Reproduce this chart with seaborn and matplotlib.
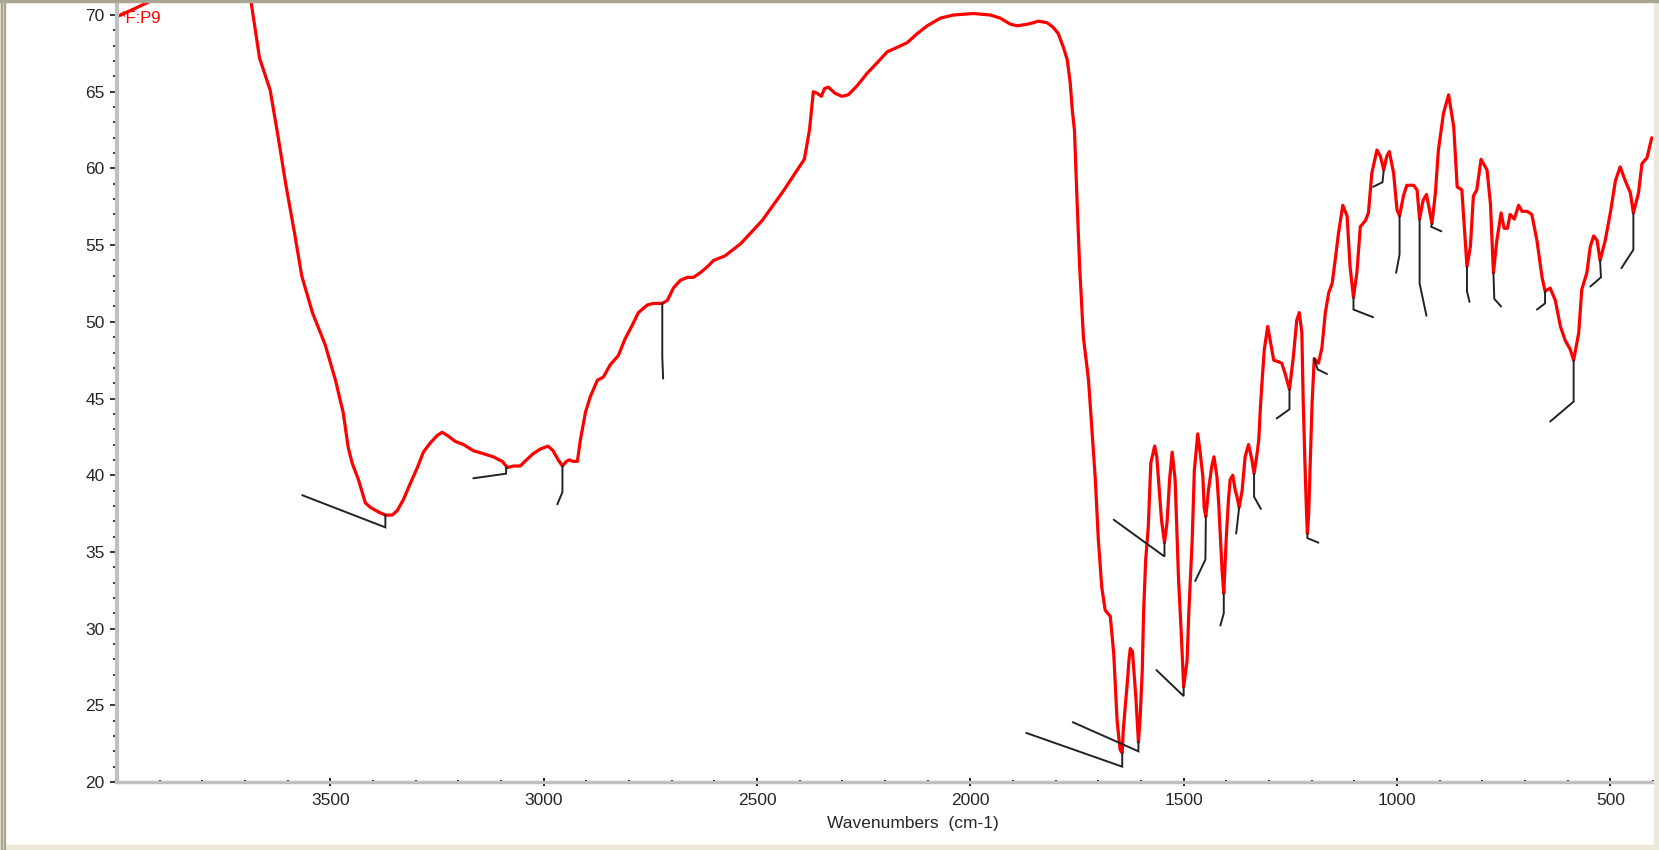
import pandas as pd
import seaborn as sns
import matplotlib.pyplot as plt
from matplotlib.ticker import MultipleLocator, FixedLocator
from matplotlib.patches import Rectangle

# IR spectrum (wavenumber cm-1, %T)
wavenumber = [
    4000, 3960, 3907, 3850, 3780, 3730, 3700, 3686, 3666, 3641, 3622, 3604,
    3584, 3567, 3542, 3512, 3488, 3470, 3458, 3449, 3434, 3418, 3406, 3387,
    3371, 3355, 3343, 3329, 3312, 3296, 3282, 3266, 3249, 3238, 3226, 3207,
    3188, 3165, 3141, 3118, 3097, 3085, 3071, 3055, 3044, 3025, 3008, 2990,
    2978, 2966, 2956, 2947, 2940, 2931, 2921, 2914, 2902, 2891, 2874, 2860,
    2844, 2825, 2809, 2792, 2778, 2757, 2743, 2722, 2710, 2696, 2680, 2663,
    2649, 2633, 2616, 2602, 2575, 2538, 2488, 2439, 2389, 2377, 2370, 2368,
    2359, 2349, 2342, 2333, 2317, 2301, 2286, 2265, 2242, 2218, 2195, 2171,
    2148, 2124, 2101, 2070, 2040, 1993, 1953, 1930, 1906, 1890, 1867, 1852,
    1841, 1820, 1806, 1794, 1782, 1773, 1766, 1761, 1756, 1750, 1744, 1735,
    1723, 1715, 1707, 1700, 1692, 1684, 1672, 1664, 1656, 1649, 1644, 1642,
    1637, 1632, 1628, 1625, 1620, 1616, 1612, 1609, 1606, 1602, 1597, 1594,
    1589, 1583, 1577, 1568, 1563, 1559, 1552, 1545, 1539, 1533, 1527, 1520,
    1516, 1512, 1506, 1500, 1492, 1488, 1480, 1475, 1467, 1461, 1455, 1452,
    1448, 1442, 1434, 1429, 1422, 1418, 1414, 1410, 1406, 1400, 1395, 1391,
    1385, 1379, 1375, 1370, 1363, 1356, 1348, 1340, 1335, 1328, 1324, 1320,
    1316, 1311, 1303, 1289, 1278, 1270, 1262, 1252, 1243, 1235, 1229, 1223,
    1220, 1216, 1212, 1210, 1207, 1203, 1199, 1194, 1184, 1176, 1168, 1160,
    1152, 1145, 1137, 1127, 1117, 1110, 1102, 1094, 1086, 1074, 1067, 1059,
    1047, 1039, 1031, 1024, 1018, 1008, 1000, 994, 985, 977, 961, 953,
    947, 939, 931, 924, 918, 910, 903, 891, 879, 867, 859, 848,
    840, 836, 828, 821, 813, 803, 789, 781, 774, 766, 756, 749,
    741, 735, 725, 715, 707, 695, 684, 672, 660, 653, 641, 629,
    617, 606, 594, 586, 574, 567, 555, 547, 539, 531, 524, 512,
    500, 488, 477, 465, 453, 446, 434, 426, 414, 403,
]
transmittance = [
    69.9, 70.4, 71.1, 72.0, 72.6, 72.2, 71.5, 70.9, 67.2, 65.1, 62.0, 58.9,
    55.8, 53.0, 50.6, 48.5, 46.2, 44.1, 41.8, 40.8, 39.7, 38.2, 37.9, 37.6,
    37.4, 37.4, 37.7, 38.4, 39.5, 40.5, 41.5, 42.1, 42.6, 42.8, 42.6, 42.2,
    42.0, 41.6, 41.4, 41.2, 40.9, 40.5, 40.6, 40.6, 40.9, 41.4, 41.7, 41.9,
    41.6, 41.0, 40.6, 40.9, 41.0, 40.9, 40.9, 42.3, 44.1, 45.1, 46.2, 46.4,
    47.2, 47.8, 48.9, 49.8, 50.6, 51.1, 51.2, 51.2, 51.4, 52.2, 52.7, 52.9,
    52.9, 53.2, 53.6, 54.0, 54.3, 55.1, 56.6, 58.5, 60.6, 62.5, 64.5, 65.0,
    64.9, 64.7, 65.2, 65.3, 64.9, 64.7, 64.8, 65.4, 66.2, 66.9, 67.6, 67.9,
    68.2, 68.8, 69.3, 69.8, 70.0, 70.1, 70.0, 69.8, 69.4, 69.3, 69.4, 69.5,
    69.6, 69.5, 69.2, 68.8, 67.9, 67.1, 65.6, 63.8, 62.5, 58.0, 53.7, 49.0,
    46.2, 43.0, 39.7, 35.8, 32.7, 31.2, 30.8, 28.4, 24.0, 22.1, 21.9, 23.2,
    24.9, 26.5, 28.0, 28.7, 28.5, 27.0, 25.5, 24.0, 22.6, 24.2, 27.3, 31.0,
    34.5, 36.6, 40.8, 41.9, 41.2, 39.7, 37.1, 35.6, 36.9, 39.7, 41.5, 39.7,
    36.4, 33.2, 29.9, 26.2, 27.9, 31.0, 35.8, 40.3, 42.7, 41.4, 39.9, 37.9,
    37.3, 39.0, 40.6, 41.2, 39.9, 38.2, 36.0, 33.8, 32.3, 36.0, 38.4, 39.7,
    40.0, 39.0, 38.6, 37.9, 39.0, 41.2, 42.0, 41.0, 40.1, 41.4, 42.3, 44.5,
    46.2, 48.2, 49.7, 47.5, 47.4, 47.3, 46.6, 45.6, 47.7, 50.1, 50.6, 49.3,
    45.0, 41.0, 37.5, 36.2, 37.5, 41.0, 44.7, 47.6, 47.3, 48.3, 50.6, 51.9,
    52.5, 54.0, 55.8, 57.6, 56.9, 53.6, 51.6, 53.2, 56.2, 56.6, 57.1, 59.7,
    61.2, 60.8, 59.9, 60.8, 61.1, 59.7, 57.3, 56.9, 58.2, 58.9, 58.9, 58.6,
    56.7, 57.9, 58.3, 57.3, 56.4, 58.4, 61.2, 63.6, 64.8, 62.7, 58.8, 58.6,
    55.3, 53.6, 54.9, 58.2, 58.6, 60.6, 59.9, 57.7, 53.2, 55.3, 57.1, 56.1,
    56.1, 57.0, 56.7, 57.6, 57.2, 57.2, 57.0, 55.3, 52.9, 52.0, 52.2, 51.4,
    49.7, 48.8, 48.2, 47.5, 49.3, 52.1, 53.2, 54.9, 55.6, 55.3, 54.0, 55.3,
    57.1, 59.2, 60.1, 59.2, 58.4, 57.1, 58.4, 60.3, 60.7, 62.0,
]

# peak-pick markers: (peak, knee, end) for each marked band
marker_wn = [
    [3371, 3371, 3566], [3088, 3088, 3165], [2956, 2956, 2968], [2722, 2722, 2720],
    [1644, 1644, 1869], [1606, 1606, 1760], [1500, 1500, 1564], [1545, 1545, 1664],
    [1448, 1449, 1473], [1406, 1406, 1414], [1370, 1374, 1377], [1335, 1335, 1319],
    [1252, 1252, 1282], [1210, 1210, 1184], [1194, 1186, 1164], [1102, 1102, 1056],
    [1031, 1034, 1056], [994, 994, 1002], [947, 947, 931], [918, 920, 896],
    [836, 836, 830], [774, 772, 756], [653, 653, 672], [586, 586, 641],
    [524, 522, 547], [446, 446, 474],
]
marker_t = [
    [37.4, 36.6, 38.7], [40.5, 40.1, 39.8], [40.6, 38.9, 38.1], [51.2, 47.7, 46.3],
    [21.9, 21.0, 23.2], [22.6, 22.0, 23.9], [26.2, 25.6, 27.3], [35.6, 34.7, 37.1],
    [37.3, 34.5, 33.1], [32.3, 31.0, 30.2], [37.9, 36.9, 36.2], [40.1, 38.6, 37.8],
    [45.6, 44.3, 43.7], [36.2, 35.9, 35.6], [47.6, 46.9, 46.6], [51.6, 50.8, 50.3],
    [59.9, 59.1, 58.8], [56.9, 54.4, 53.2], [56.7, 52.5, 50.4], [56.4, 56.2, 55.9],
    [53.6, 52.0, 51.3], [53.2, 51.5, 51.0], [52.0, 51.2, 50.8], [47.5, 44.8, 43.5],
    [54.0, 52.9, 52.3], [57.1, 54.7, 53.5],
]

x_labels = [3500, 3000, 2500, 2000, 1500, 1000, 500]

sns.set_style("white")
plt.rcParams['font.family'] = ['Liberation Sans', 'DejaVu Sans']

df = pd.DataFrame({"wavenumber": wavenumber, "transmittance": transmittance})

fig = plt.figure(figsize=(16.59, 8.5), dpi=100)
ax = fig.add_axes([117 / 1659, 1 - 782 / 850, 1536 / 1659, 780 / 850])

sns.lineplot(data=df, x="wavenumber", y="transmittance", sort=False,
             estimator=None, color="#FF0000", lw=2.3, ax=ax)

for xs, ys in zip(marker_wn, marker_t):
    ax.plot(xs, ys, color="#222222", lw=1.4, solid_joinstyle="miter")

ax.set_xlim(4000, 400)
ax.set_ylim(20, 70.85)

ax.xaxis.set_major_locator(FixedLocator(x_labels))
ax.xaxis.set_minor_locator(MultipleLocator(100))
ax.yaxis.set_major_locator(MultipleLocator(5))
ax.yaxis.set_minor_locator(MultipleLocator(1))

for s in ["top", "right"]:
    ax.spines[s].set_visible(False)
ax.spines["left"].set_color("#C0C0C0")
ax.spines["left"].set_linewidth(3)
ax.spines["bottom"].set_color("#C0C0C0")
ax.spines["bottom"].set_linewidth(2.5)

ax.tick_params(axis="y", which="major", direction="out", length=5, width=1.1,
               color="black", pad=4, labelsize=12.5, left=True)
ax.tick_params(axis="y", which="minor", direction="out", length=3, width=1.1,
               color="black", left=True)
ax.tick_params(axis="x", which="major", direction="inout", length=6, width=1.3,
               color="black", pad=5, labelsize=12.5, bottom=True)
ax.tick_params(axis="x", which="minor", direction="inout", length=3.5, width=1.3,
               color="black", bottom=True)

ax.set_ylabel("")
ax.set_xlabel("Wavenumbers  (cm-1)", fontsize=12.5)
ax.xaxis.set_label_coords(0.518, -0.043)

ax.text(3993, 69.75, "*F:P9", color="#FF0000", fontsize=12, ha="left", va="center")

# window frame around the plot
frame = "#ECE9D8"
edge = "#A9A592"
fig.patches.append(Rectangle((0, 0), 1, 5 / 850, transform=fig.transFigure, color=frame, zorder=0))
fig.patches.append(Rectangle((1654 / 1659, 0), 5 / 1659, 1, transform=fig.transFigure, color=frame, zorder=0))
fig.patches.append(Rectangle((0, 0), 4 / 1659, 1, transform=fig.transFigure, color=frame, zorder=0))
fig.patches.append(Rectangle((1 / 1659, 0), 1 / 1659, 1, transform=fig.transFigure, color=edge, zorder=1))
fig.patches.append(Rectangle((4 / 1659, 0), 1 / 1659, 1, transform=fig.transFigure, color=edge, zorder=1))
fig.patches.append(Rectangle((0, 848 / 850), 1, 2 / 850, transform=fig.transFigure, color=edge, zorder=1))

fig.savefig("out.png", dpi=100)
print("saved out.png")
